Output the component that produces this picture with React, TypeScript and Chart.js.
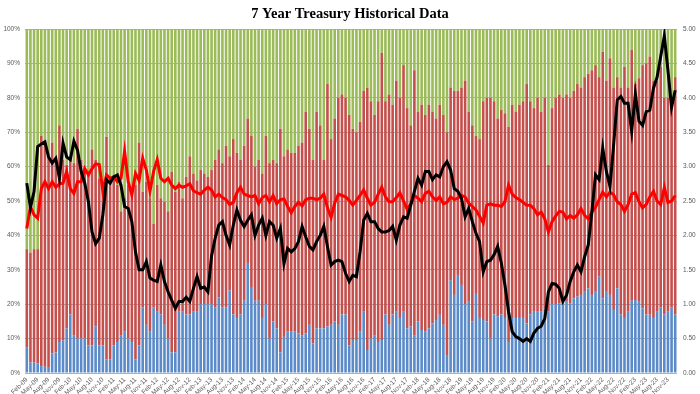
import React, { useEffect, useRef } from 'react';
import { Chart, registerables } from 'chart.js';

Chart.register(...registerables);

const TITLE = '7 Year Treasury Historical Data';

const MONTHS = ['Jan', 'Feb', 'Mar', 'Apr', 'May', 'Jun', 'Jul', 'Aug', 'Sep', 'Oct', 'Nov', 'Dec'];
// Monthly auctions Feb-09 .. Jan-24
const categories: string[] = [];
for (let k = 0; k < 180; k++) {
  const m = (1 + k) % 12;
  const y = 9 + Math.floor((1 + k) / 12);
  categories.push(`${MONTHS[m]}-${String(y).padStart(2, '0')}`);
}

// Share of allotment (%)
const directs = [
  7.5, 3, 3, 2.8, 2, 1.8, 1.5, 5.7, 6, 9, 9.5, 13, 17, 11, 10, 10, 10, 8, 8, 13.5, 8, 8, 4, 4, 8, 9, 11, 12, 10, 9, 4, 8, 19, 14, 12, 19, 18, 17, 14, 10, 6, 6, 18, 18,
  17, 17, 18, 18, 20, 20, 20, 20, 19, 22, 19, 19, 24, 17, 16, 17, 21, 32, 25, 21, 21, 16, 20, 10, 15, 13, 6, 10.5, 12, 12, 12, 11.5, 11, 11.5, 14, 8.6, 13, 13, 13, 13.5, 14, 15, 14, 17,
  17, 8, 9.6, 9.6, 12, 17.8, 6.7, 10, 11, 9, 9.6, 17, 14, 17, 18, 16, 18, 13, 13.5, 11, 15, 12.5, 12, 13, 14.4, 15.4, 16.9, 14, 5, 27, 22.7, 28.5, 25.6, 20, 20.7, 15, 23, 16, 15.4, 15, 10, 17, 16.5,
  17, 16, 9, 16, 16, 16, 16, 14.4, 17, 18, 18, 18, 18.8, 18, 20, 20, 20.3, 20.7, 20.7, 20.3, 21.7, 22.2, 22.7, 23.6, 24.6, 22.7, 23.6, 28, 21.7, 23.6, 22.7, 18.3, 24.6, 17, 16, 17.8, 21, 21.2, 20.7, 18.8, 17, 16.9, 16,
  18, 19, 17, 18, 19, 17,
];

const indirects = [
  28.5, 32, 33, 33.2, 67, 65.2, 61.5, 61.3, 56, 63, 52.5, 47.5, 46, 50, 61, 52, 48.5, 49.6, 57, 48.5, 48.6, 46.7, 64.7, 52.6, 48.6, 45.7, 36, 39, 44.7, 43, 50.7, 59, 33.7, 41.6, 38.8, 24.4, 36.7, 33.8, 35.8, 37, 52.5, 46.7, 37.6, 32.8,
  40, 46, 40, 38, 39, 38, 37, 39, 43, 43, 42, 47, 39, 51, 48, 45, 45, 42, 44, 39, 41, 42, 49, 51, 47, 48, 65, 52.5, 53, 52, 52, 54.5, 56, 64.5, 57, 53.4, 63, 59, 49, 70.5, 54, 59, 66, 64,
  63, 67, 61.4, 60.4, 61, 64.2, 76.3, 69, 64, 70, 83.4, 62, 67, 61, 67, 64, 71.5, 64, 58.5, 77, 61, 65.5, 63, 65, 61.6, 58.6, 61.1, 61, 65, 56, 59.3, 53.5, 57.4, 65, 55.3, 57, 46, 52, 63.6, 65, 70, 62, 57.5,
  59.5, 59.5, 62.6, 62, 60, 62, 63, 69.6, 62, 59, 62, 58, 61.2, 42.5, 57, 60, 60.7, 59.3, 60.3, 59.7, 60.3, 61.8, 60.3, 62.4, 62.4, 65.3, 65.9, 58, 71.7, 61.4, 68.8, 64.7, 61.4, 66, 73, 65.2, 73, 62.8, 65, 70.7, 73, 75.1, 69,
  67, 70, 63, 62, 59, 69,
];

const dealers = [
  64, 65, 64, 64, 31, 33, 37, 33, 38, 28, 38, 39.5, 37, 39, 29, 38, 41.5, 42.4, 35, 38, 43.4, 45.3, 31.3, 43.4, 43.4, 45.3, 53, 49, 45.3, 48, 45.3, 33, 47.3, 44.4, 49.2, 56.6, 45.3, 49.2, 50.2, 53, 41.5, 47.3, 44.4, 49.2,
  43, 37, 42, 44, 41, 42, 43, 41, 38, 35, 39, 34, 37, 32, 36, 38, 34, 26, 31, 40, 38, 42, 31, 39, 38, 39, 29, 37, 35, 36, 36, 34, 33, 24, 29, 38, 24, 28, 38, 16, 32, 26, 20, 19,
  20, 25, 29, 30, 27, 18, 17, 21, 25, 21, 7, 21, 19, 22, 15, 20, 10.5, 23, 28, 12, 24, 22, 25, 22, 24, 26, 22, 25, 30, 17, 18, 18, 17, 15, 24, 28, 31, 32, 21, 20, 20, 21, 26,
  23.5, 24.5, 28.4, 22, 24, 22, 21, 16, 21, 23, 20, 24, 20, 39.5, 23, 20, 19, 20, 19, 20, 18, 16, 17, 14, 13, 12, 10.5, 14, 6.6, 15, 8.5, 17, 14, 17, 11, 17, 6, 16, 14.3, 10.5, 10, 8, 15,
  15, 11, 20, 20, 22, 14,
];

// Right axis series
const bidToCover = [
  2.10, 2.42, 2.30, 2.25, 2.68, 2.78, 2.68, 2.78, 2.70, 2.75, 2.76, 2.93, 2.68, 2.61, 2.78, 2.78, 2.97, 2.88, 2.97, 3.04, 3.03, 2.64, 2.88, 2.83, 2.85, 2.78, 2.83, 3.22, 2.78, 2.59, 2.90, 2.80, 3.12, 2.95, 2.64, 2.93, 3.10, 2.83, 2.78, 2.83, 2.73, 2.68, 2.73, 2.70,
  2.72, 2.75, 2.65, 2.62, 2.60, 2.66, 2.70, 2.66, 2.56, 2.60, 2.55, 2.52, 2.45, 2.48, 2.62, 2.70, 2.60, 2.58, 2.56, 2.58, 2.46, 2.55, 2.58, 2.49, 2.58, 2.46, 2.52, 2.53, 2.42, 2.33, 2.42, 2.48, 2.43, 2.52, 2.54, 2.54, 2.52, 2.54, 2.60, 2.40, 2.26, 2.47, 2.60, 2.58,
  2.56, 2.51, 2.44, 2.51, 2.58, 2.66, 2.54, 2.44, 2.48, 2.60, 2.70, 2.56, 2.49, 2.49, 2.55, 2.62, 2.50, 2.38, 2.46, 2.58, 2.54, 2.49, 2.61, 2.64, 2.56, 2.51, 2.56, 2.46, 2.48, 2.56, 2.52, 2.54, 2.58, 2.56, 2.47, 2.42, 2.37, 2.28, 2.18, 2.44, 2.46, 2.44, 2.44,
  2.42, 2.49, 2.73, 2.60, 2.55, 2.52, 2.48, 2.44, 2.44, 2.39, 2.30, 2.34, 2.24, 2.05, 2.20, 2.28, 2.35, 2.34, 2.24, 2.29, 2.25, 2.30, 2.39, 2.29, 2.24, 2.34, 2.41, 2.52, 2.63, 2.56, 2.63, 2.59, 2.49, 2.45, 2.35, 2.45, 2.60, 2.62, 2.49, 2.40, 2.45, 2.56, 2.64, 2.50, 2.45, 2.70, 2.48, 2.50, 2.58,
];

const highYield = [
  2.76, 2.40, 2.64, 3.29, 3.33, 3.36, 3.14, 3.05, 3.12, 2.83, 3.34, 3.14, 3.10, 3.37, 3.24, 2.93, 2.76, 2.49, 2.05, 1.88, 1.96, 2.30, 2.81, 2.76, 2.85, 2.88, 2.73, 2.42, 2.39, 2.20, 1.76, 1.50, 1.50, 1.62, 1.38, 1.35, 1.33, 1.57, 1.33, 1.18, 1.06, 0.94, 1.04, 1.04,
  1.10, 1.04, 1.23, 1.40, 1.23, 1.25, 1.18, 1.70, 1.96, 2.15, 2.20, 2.00, 1.86, 2.15, 2.37, 2.22, 2.13, 2.22, 2.30, 2.00, 2.15, 2.25, 2.00, 2.20, 2.15, 1.96, 2.10, 1.59, 1.81, 1.76, 1.81, 1.91, 2.13, 1.98, 1.84, 1.79, 1.91, 2.00, 2.13, 1.84, 1.57, 1.62, 1.64, 1.62,
  1.45, 1.33, 1.42, 1.40, 1.76, 2.22, 2.32, 2.20, 2.20, 2.10, 2.05, 2.05, 2.07, 2.13, 1.93, 2.15, 2.27, 2.25, 2.44, 2.64, 2.83, 2.73, 2.93, 2.93, 2.81, 2.88, 2.85, 3.00, 3.07, 2.95, 2.68, 2.64, 2.54, 2.27, 2.39, 2.20, 2.03, 1.91, 1.47, 1.62, 1.64, 1.72, 1.84,
  1.60, 1.28, 0.89, 0.60, 0.53, 0.50, 0.46, 0.50, 0.46, 0.58, 0.65, 0.68, 0.79, 1.18, 1.30, 1.29, 1.23, 1.04, 1.13, 1.33, 1.47, 1.57, 1.47, 1.69, 1.86, 2.34, 2.88, 2.81, 3.27, 2.93, 2.71, 3.31, 3.97, 4.02, 3.92, 3.92, 3.51, 4.06, 3.66, 3.60, 3.80, 3.82, 4.14, 4.30, 4.60, 4.90, 4.40, 3.86, 4.11,
];

const leftTicksMax = 100;
const rightTicksMax = 5;

const titlePlugin = {
  id: 'customTitle',
  afterDraw(chart: any) {
    const ctx = chart.ctx;
    ctx.save();
    ctx.font = 'bold 14.5px "Liberation Serif", "Times New Roman", serif';
    ctx.fillStyle = '#000000';
    ctx.textAlign = 'center';
    ctx.textBaseline = 'alphabetic';
    ctx.fillText(TITLE, 350, 17.5);
    ctx.restore();
  },
};

export default function App() {
  const ref = useRef<HTMLCanvasElement | null>(null);

  useEffect(() => {
    if (!ref.current) return;
    const tickFont = { family: '"Liberation Sans", Arial, sans-serif', size: 6.5 };
    const chart = new Chart(ref.current, {
      type: 'bar',
      data: {
        labels: categories,
        datasets: [
          {
            type: 'line',
            label: 'High Yield',
            data: highYield,
            yAxisID: 'y1',
            borderColor: '#000000',
            borderWidth: 3,
            pointRadius: 0,
            tension: 0,
            order: 0,
          } as any,
          {
            type: 'line',
            label: 'Bid to Cover',
            data: bidToCover,
            yAxisID: 'y1',
            borderColor: '#ff0000',
            borderWidth: 3,
            pointRadius: 0,
            tension: 0,
            order: 1,
          } as any,
          {
            label: 'Directs',
            data: directs,
            backgroundColor: '#5b8ac9',
            yAxisID: 'y',
            stack: 'alloc',
            order: 2,
            barPercentage: 0.72,
            categoryPercentage: 1,
          },
          {
            label: 'Indirects',
            data: indirects,
            backgroundColor: '#c4504d',
            yAxisID: 'y',
            stack: 'alloc',
            order: 2,
            barPercentage: 0.72,
            categoryPercentage: 1,
          },
          {
            label: 'Dealers',
            data: dealers,
            backgroundColor: '#9bbb59',
            yAxisID: 'y',
            stack: 'alloc',
            order: 2,
            barPercentage: 0.72,
            categoryPercentage: 1,
          },
        ],
      },
      options: {
        responsive: false,
        animation: false,
        devicePixelRatio: 1,
        layout: { padding: { top: 29, left: 0, right: 0, bottom: 0 } },
        plugins: {
          legend: { display: false },
          title: { display: false },
          tooltip: { enabled: false },
        },
        scales: {
          x: {
            stacked: true,
            grid: { display: false, drawTicks: false },
            border: { display: false },
            ticks: {
              autoSkip: false,
              maxRotation: 45,
              minRotation: 45,
              padding: 3,
              color: '#595959',
              font: tickFont,
              callback: (_v: any, i: number) => (i % 3 === 0 ? categories[i] : ''),
            },
            afterFit: (s: any) => {
              s.height = 21;
            },
          },
          y: {
            stacked: true,
            position: 'left',
            min: 0,
            max: leftTicksMax,
            grid: { color: '#b0b0b0', lineWidth: 1, drawTicks: false },
            border: { display: false },
            ticks: {
              stepSize: 10,
              padding: 5,
              color: '#595959',
              font: tickFont,
              callback: (v: any) => `${v}%`,
            },
            afterFit: (s: any) => {
              s.width = 25;
            },
          },
          y1: {
            position: 'right',
            min: 0,
            max: rightTicksMax,
            stacked: false,
            grid: { display: false, drawTicks: false },
            border: { display: false },
            ticks: {
              stepSize: 0.5,
              padding: 6,
              color: '#595959',
              font: tickFont,
              callback: (v: any) => Number(v).toFixed(2),
            },
            afterFit: (s: any) => {
              s.width = 23;
            },
          },
        },
      },
      plugins: [titlePlugin],
    });
    return () => chart.destroy();
  }, []);

  return (
    <div style={{ position: 'fixed', left: 0, top: 0, width: 700, height: 394, background: '#ffffff' }}>
      <canvas ref={ref} width={700} height={394} style={{ display: 'block', width: 700, height: 394 }} />
    </div>
  );
}
